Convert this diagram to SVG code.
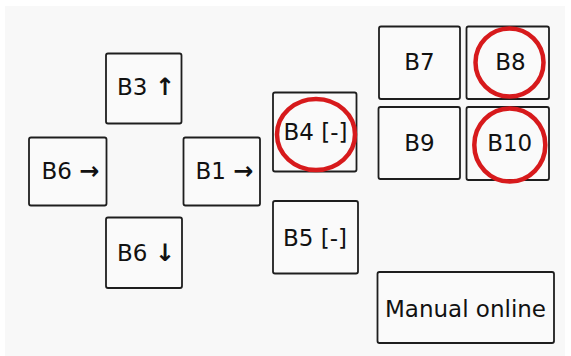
<svg xmlns="http://www.w3.org/2000/svg" width="571" height="356" viewBox="0 0 571 356">
<style>
.box{fill:#fafafa;stroke:#1e1e1e;stroke-width:1.8}
.lbl{font-family:"DejaVu Sans",sans-serif;font-size:23px;fill:#111;text-anchor:middle}
.arr{font-weight:bold;font-size:24px}
.ring{fill:none;stroke:#d71a1c;stroke-width:4.5}
</style>
<rect x="0" y="0" width="571" height="356" fill="#ffffff"/>
<rect x="5" y="6" width="560" height="350" fill="#f8f8f8"/>
<g id="connectors"></g>
<g id="b3"><rect class="box" x="106" y="53.5" width="75.5" height="70" rx="2"/><text class="lbl" x="146" y="95">B3 <tspan class="arr">↑</tspan></text></g>
<g id="b6r"><rect class="box" x="29" y="137.5" width="77.5" height="68" rx="2"/><text class="lbl" x="70.5" y="179">B6 <tspan class="arr">→</tspan></text></g>
<g id="b1"><rect class="box" x="183.5" y="137.5" width="76.5" height="68" rx="2"/><text class="lbl" x="224.5" y="179">B1 <tspan class="arr">→</tspan></text></g>
<g id="b6d"><rect class="box" x="106" y="217.5" width="76" height="70.5" rx="2"/><text class="lbl" x="146" y="261">B6 <tspan class="arr">↓</tspan></text></g>
<g id="b4"><rect class="box" x="273" y="92.5" width="83.5" height="79" rx="2"/><text class="lbl" x="315.5" y="140">B4 [-]</text><ellipse class="ring" cx="316" cy="134.5" rx="39" ry="35.5"/></g>
<g id="b5"><rect class="box" x="273" y="201" width="85" height="72.5" rx="2"/><text class="lbl" x="315" y="246">B5 [-]</text></g>
<g id="b7"><rect class="box" x="379" y="26.5" width="81" height="72.5" rx="2"/><text class="lbl" x="419.5" y="70">B7</text></g>
<g id="b8"><rect class="box" x="466.5" y="26.5" width="82.5" height="72.5" rx="2"/><text class="lbl" x="510.5" y="70">B8</text><circle class="ring" cx="509.5" cy="62.5" r="34"/></g>
<g id="b9"><rect class="box" x="378.5" y="107" width="81.5" height="72" rx="2"/><text class="lbl" x="419.5" y="150.5">B9</text></g>
<g id="b10"><rect class="box" x="466.5" y="107" width="82.5" height="73" rx="2"/><text class="lbl" x="509.7" y="150.5">B10</text><ellipse class="ring" cx="509.8" cy="145" rx="35.5" ry="36.5"/></g>
<g id="manual"><rect class="box" x="377.5" y="272" width="176.5" height="71" rx="2"/><text class="lbl" x="465.5" y="317">Manual online</text></g>
</svg>
